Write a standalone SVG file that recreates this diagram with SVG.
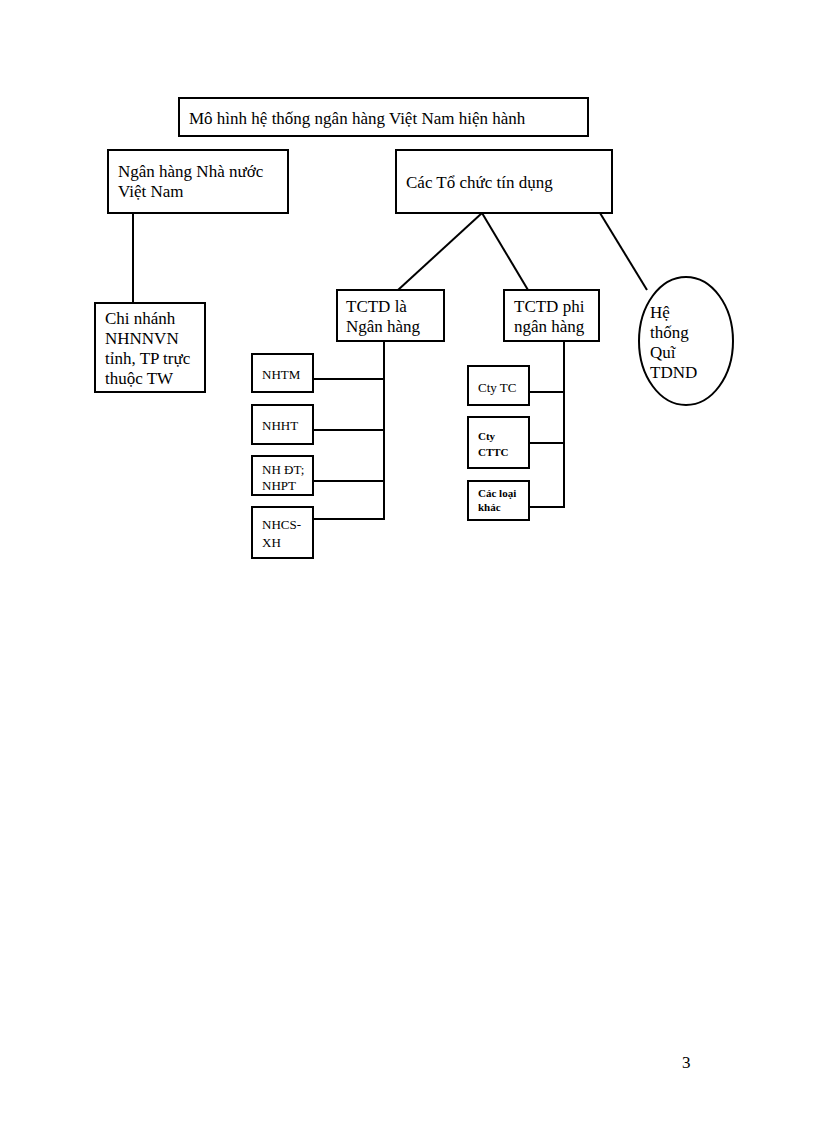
<svg xmlns="http://www.w3.org/2000/svg" width="816" height="1123" viewBox="0 0 816 1123">
<style>
rect,ellipse{fill:#fff;stroke:#000;stroke-width:2}
line{stroke:#000;stroke-width:2}
text{font-family:"Liberation Serif",serif;fill:#000}
.l{font-size:17px}.s{font-size:13px}.b{font-size:11px;font-weight:bold}
</style>
<rect width="816" height="1123" style="fill:#fff;stroke:none"/>
<g id="connectors">
<line x1="133" y1="213" x2="133" y2="303"/>
<line x1="482" y1="213" x2="398" y2="290"/>
<line x1="482" y1="213" x2="528" y2="290"/>
<line x1="600" y1="213" x2="647" y2="290"/>
<line x1="384" y1="341" x2="384" y2="520"/>
<line x1="313" y1="379" x2="384" y2="379"/>
<line x1="313" y1="430" x2="384" y2="430"/>
<line x1="313" y1="481" x2="384" y2="481"/>
<line x1="313" y1="519" x2="384" y2="519"/>
<line x1="564" y1="341" x2="564" y2="508"/>
<line x1="529" y1="392" x2="564" y2="392"/>
<line x1="529" y1="443" x2="564" y2="443"/>
<line x1="529" y1="507" x2="564" y2="507"/>
</g>
<g id="title"><rect x="179" y="98" width="409" height="38"/><text class="l" x="189" y="124">Mô hình hệ thống ngân hàng Việt Nam hiện hành</text></g>
<g id="nhnn"><rect x="108" y="150" width="180" height="63"/><text class="l" x="118" y="177">Ngân hàng Nhà nước</text><text class="l" x="118" y="197">Việt Nam</text></g>
<g id="tctd"><rect x="396" y="150" width="216" height="63"/><text class="l" x="406" y="188">Các Tổ chức tín dụng</text></g>
<g id="chinhanh"><rect x="95" y="303" width="110" height="89"/><text class="l" x="105" y="324">Chi nhánh</text><text class="l" x="105" y="344">NHNNVN</text><text class="l" x="105" y="364">tỉnh, TP trực</text><text class="l" x="105" y="384">thuộc TW</text></g>
<g id="tctdnh"><rect x="337" y="290" width="107" height="51"/><text class="l" x="346" y="312">TCTD là</text><text class="l" x="346" y="332">Ngân hàng</text></g>
<g id="tctdphi"><rect x="504" y="290" width="95" height="51"/><text class="l" x="514" y="312">TCTD phi</text><text class="l" x="514" y="332">ngân hàng</text></g>
<g id="quy"><ellipse cx="686" cy="341" rx="47" ry="64"/><text class="l" x="650" y="318">Hệ</text><text class="l" x="650" y="338">thống</text><text class="l" x="650" y="358">Quĩ</text><text class="l" x="650" y="378">TDND</text></g>
<g id="nhtm"><rect x="252" y="354" width="61" height="38"/><text class="s" x="262" y="379">NHTM</text></g>
<g id="nhht"><rect x="252" y="405" width="61" height="39"/><text class="s" x="262" y="430">NHHT</text></g>
<g id="nhdt"><rect x="252" y="456" width="61" height="39"/><text class="s" x="262" y="474">NH ĐT;</text><text class="s" x="262" y="490">NHPT</text></g>
<g id="nhcs"><rect x="252" y="507" width="61" height="51"/><text class="s" x="262" y="529">NHCS-</text><text class="s" x="262" y="547">XH</text></g>
<g id="ctytc"><rect x="468" y="366" width="61" height="39"/><text class="s" x="478" y="392">Cty TC</text></g>
<g id="cttc"><rect x="468" y="417" width="61" height="51"/><text class="b" x="478" y="440">Cty</text><text class="b" x="478" y="456">CTTC</text></g>
<g id="khac"><rect x="468" y="481" width="61" height="39"/><text class="b" x="478" y="497">Các loại</text><text class="b" x="478" y="511">khác</text></g>
<text class="l" x="682" y="1068">3</text>
</svg>
